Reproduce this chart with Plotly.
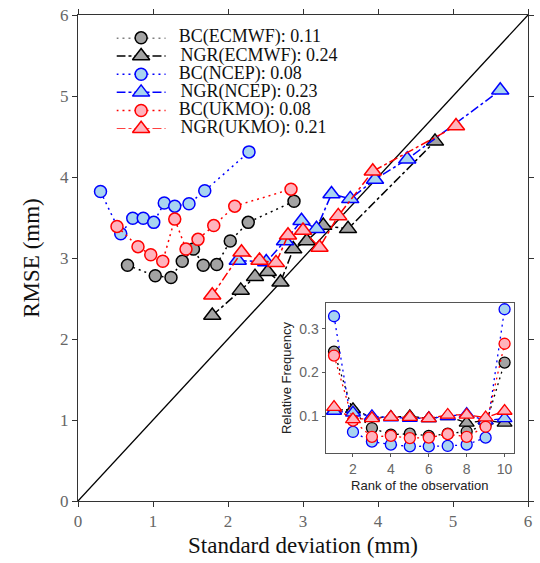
import plotly.graph_objects as go

# ---- main panel: standard deviation vs RMSE (mm) ----
bc_ecmwf_sd = [0.66, 1.03, 1.24, 1.39, 1.54, 1.67, 1.85, 2.03, 2.27, 2.88]
bc_ecmwf_rmse = [2.91, 2.78, 2.76, 2.96, 3.11, 2.91, 2.92, 3.21, 3.44, 3.70]

ngr_ecmwf_sd = [1.79, 2.17, 2.36, 2.53, 2.70, 2.87, 3.05, 3.27, 3.60, 4.76]
ngr_ecmwf_rmse = [2.29, 2.60, 2.77, 2.83, 2.70, 3.11, 3.21, 3.40, 3.36, 4.44]

bc_ncep_sd = [0.30, 0.57, 0.73, 0.87, 1.01, 1.15, 1.29, 1.48, 1.69, 2.28]
bc_ncep_rmse = [3.82, 3.30, 3.49, 3.49, 3.44, 3.68, 3.64, 3.67, 3.83, 4.31]

ngr_ncep_sd = [2.13, 2.51, 2.76, 2.98, 3.18, 3.38, 3.63, 3.96, 4.39, 5.63]
ngr_ncep_rmse = [2.97, 2.95, 3.21, 3.46, 3.36, 3.79, 3.73, 3.97, 4.22, 5.07]

bc_ukmo_sd = [0.52, 0.80, 0.97, 1.13, 1.29, 1.44, 1.60, 1.81, 2.09, 2.84]
bc_ukmo_rmse = [3.39, 3.14, 3.04, 2.96, 3.48, 3.11, 3.23, 3.40, 3.64, 3.85]

ngr_ukmo_sd = [1.79, 2.18, 2.42, 2.64, 2.80, 3.00, 3.22, 3.47, 3.93, 5.04]
ngr_ukmo_rmse = [2.54, 3.07, 2.97, 2.94, 3.28, 3.34, 3.13, 3.52, 4.07, 4.63]

# ---- inset: rank histograms ----
ranks = [1, 2, 3, 4, 5, 6, 7, 8, 9, 10]
hist_bc_ecmwf = [0.248, 0.110, 0.073, 0.058, 0.060, 0.055, 0.060, 0.065, 0.080, 0.223]
hist_ngr_ecmwf = [0.113, 0.116, 0.097, 0.098, 0.100, 0.095, 0.100, 0.085, 0.090, 0.085]
hist_bc_ncep = [0.329, 0.064, 0.042, 0.035, 0.031, 0.031, 0.032, 0.035, 0.051, 0.345]
hist_ngr_ncep = [0.112, 0.108, 0.100, 0.097, 0.096, 0.095, 0.100, 0.105, 0.090, 0.095]
hist_bc_ukmo = [0.239, 0.090, 0.053, 0.055, 0.050, 0.051, 0.059, 0.053, 0.076, 0.266]
hist_ngr_ukmo = [0.121, 0.093, 0.095, 0.098, 0.098, 0.095, 0.103, 0.103, 0.097, 0.112]

labels = ["BC(ECMWF): 0.11", "NGR(ECMWF): 0.24", "BC(NCEP): 0.08",
          "NGR(NCEP): 0.23", "BC(UKMO): 0.08", "NGR(UKMO): 0.21"]

styles = [
    # (line colour, marker fill, symbol, dash)
    ("black", "#a3a3a3", "circle", "2px,4px"),
    ("black", "#a3a3a3", "triangle-up", "dashdot"),
    ("#0000ff", "#a8d4f0", "circle", "2px,4px"),
    ("#0000ff", "#a8d4f0", "triangle-up", "dashdot"),
    ("#ff0000", "#ffb3bd", "circle", "2px,4px"),
    ("#ff0000", "#ffb3bd", "triangle-up", "dashdot"),
]

main_x = [bc_ecmwf_sd, ngr_ecmwf_sd, bc_ncep_sd, ngr_ncep_sd, bc_ukmo_sd, ngr_ukmo_sd]
main_y = [bc_ecmwf_rmse, ngr_ecmwf_rmse, bc_ncep_rmse, ngr_ncep_rmse, bc_ukmo_rmse, ngr_ukmo_rmse]
inset_y = [hist_bc_ecmwf, hist_ngr_ecmwf, hist_bc_ncep, hist_ngr_ncep, hist_bc_ukmo, hist_ngr_ukmo]

serif = "Liberation Serif"
sans = "Liberation Sans"

fig = go.Figure()

# 1:1 reference line
fig.add_trace(go.Scatter(x=[0, 6], y=[0, 6], mode="lines",
                         line=dict(color="black", width=1.3),
                         showlegend=False, hoverinfo="skip"))

for name, xs, ys, (lc, fc, sym, dash) in zip(labels, main_x, main_y, styles):
    size = 12 if sym == "circle" else 15
    fig.add_trace(go.Scatter(
        x=xs, y=ys, mode="lines+markers", name=name, showlegend=False,
        line=dict(color=lc, width=1.5, dash=dash),
        marker=dict(symbol=sym, size=size, color=fc,
                    line=dict(color=lc, width=1.5)),
    ))

for name, hs, (lc, fc, sym, dash) in zip(labels, inset_y, styles):
    size = 11 if sym == "circle" else 13
    fig.add_trace(go.Scatter(
        x=ranks, y=hs, mode="lines+markers", name=name, showlegend=False,
        xaxis="x2", yaxis="y2",
        line=dict(color=lc, width=1.3, dash=dash),
        marker=dict(symbol=sym, size=size, color=fc,
                    line=dict(color=lc, width=1.3)),
    ))

# Compact legend: one key row per series on its own hidden axis pair
for row, (name, (lc, fc, sym, dash)) in enumerate(zip(labels, styles)):
    size = 12 if sym == "circle" else 15
    fig.add_trace(go.Scatter(
        x=[0, 0.5, 1], y=[row, row, row], mode="lines+markers+text",
        xaxis="x3", yaxis="y3", showlegend=False, hoverinfo="skip",
        cliponaxis=False,
        line=dict(color=lc, width=1.5, dash=dash),
        marker=dict(symbol=sym, size=size, color=fc, opacity=[0, 1, 0],
                    line=dict(color=lc, width=1.5)),
        text=["", "", " " + name], textposition="middle right",
        textfont=dict(family=serif, size=18, color="#111"),
    ))

hidden = dict(visible=False, showgrid=False, zeroline=False, fixedrange=True)

fig.update_layout(
    width=540, height=563,
    margin=dict(l=78, r=6, t=13, b=62),
    paper_bgcolor="white", plot_bgcolor="white",
    showlegend=False,
    xaxis=dict(domain=[0, 1], range=[0, 6], tickvals=[0, 1, 2, 3, 4, 5, 6],
               showgrid=False, zeroline=False, showline=True, mirror="ticks",
               linecolor="#333", linewidth=1, ticks="outside", ticklen=5,
               tickcolor="#333",
               tickfont=dict(family=serif, size=17, color="#666"),
               title=dict(text="Standard deviation (mm)", standoff=6,
                          font=dict(family=serif, size=23, color="#111"))),
    yaxis=dict(domain=[0, 1], range=[0, 6], tickvals=[0, 1, 2, 3, 4, 5, 6],
               showgrid=False, zeroline=False, showline=True, mirror="ticks",
               linecolor="#333", linewidth=1, ticks="outside", ticklen=5,
               tickcolor="#333",
               tickfont=dict(family=serif, size=17, color="#666"),
               title=dict(text="RMSE (mm)", standoff=14,
                          font=dict(family=serif, size=23, color="#111"))),
    xaxis2=dict(domain=[0.550, 0.969], anchor="y2", range=[0.55, 10.5],
                tickvals=[2, 4, 6, 8, 10], showgrid=False, zeroline=False,
                showline=True, mirror=True, linecolor="#555", linewidth=1,
                ticks="outside", ticklen=3, tickcolor="#555",
                tickfont=dict(family=sans, size=14, color="#666"),
                title=dict(text="Rank of the observation", standoff=4,
                           font=dict(family=sans, size=13, color="#222"))),
    yaxis2=dict(domain=[0.098, 0.408], anchor="x2", range=[0.015, 0.36],
                tickvals=[0.1, 0.2, 0.3], showgrid=False, zeroline=False,
                showline=True, mirror=True, linecolor="#555", linewidth=1,
                ticks="outside", ticklen=3, tickcolor="#555",
                tickfont=dict(family=sans, size=14, color="#666"),
                title=dict(text="Relative Frequency", standoff=4,
                           font=dict(family=sans, size=13, color="#222"))),
    xaxis3=dict(domain=[0.0855, 0.195], anchor="y3", range=[0, 1], **hidden),
    yaxis3=dict(domain=[0.766, 0.953], anchor="x3", range=[5, 0], **hidden),
)

fig.write_html("out.html")
